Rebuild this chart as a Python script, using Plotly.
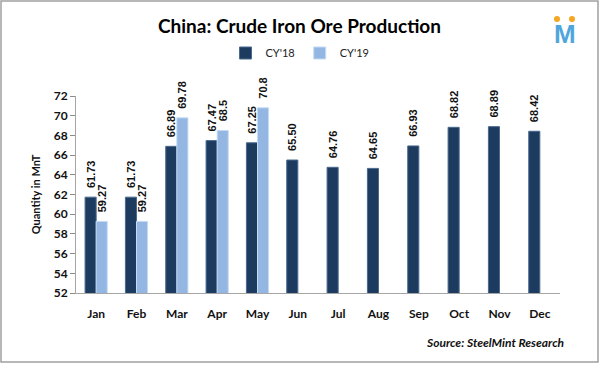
import plotly.graph_objects as go

months = ["Jan", "Feb", "Mar", "Apr", "May", "Jun", "Jul", "Aug", "Sep", "Oct", "Nov", "Dec"]
cy18 = [61.73, 61.73, 66.89, 67.47, 67.25, 65.50, 64.76, 64.65, 66.93, 68.82, 68.89, 68.42]
cy19 = [59.27, 59.27, 69.78, 68.5, 70.8, None, None, None, None, None, None, None]
cy18_labels = [f"{v:.2f}" for v in cy18]
cy19_labels = [("" if v is None else f"{v:g}") for v in cy19]

W, H = 599, 384
L, R, T, B = 76, 39, 96, 91
pw, ph = W - L - R, H - T - B

def px(x):
    return (x - L) / pw

def py(y):
    return (H - B - y) / ph

font = "Lato"
lab_tpl = "\u00a0\u00a0<b>%{text}</b>"

fig = go.Figure()
fig.add_trace(go.Bar(
    x=months, y=cy18, name="CY'18", text=cy18_labels, texttemplate=lab_tpl,
    textposition="outside", textangle=-90, constraintext="none",
    textfont=dict(family="Liberation Sans", size=11, color="#111111"),
    marker=dict(color="#1d3a5f", line=dict(color="#4a6a90", width=1)),
    cliponaxis=False, hoverinfo="skip",
))
fig.add_trace(go.Bar(
    x=months, y=cy19, name="CY'19", text=cy19_labels, texttemplate=lab_tpl,
    textposition="outside", textangle=-90, constraintext="none",
    textfont=dict(family="Liberation Sans", size=11, color="#111111"),
    marker=dict(color="#93b7e2", line=dict(color="#c5dbf3", width=1)),
    cliponaxis=False, hoverinfo="skip",
))

fig.update_layout(
    width=W, height=H,
    margin=dict(l=L, r=R, t=T, b=B, autoexpand=False),
    paper_bgcolor="white", plot_bgcolor="white",
    barmode="group", bargap=0.45, bargroupgap=0,
    font=dict(family=font, color="#111111"),
    title=dict(text="<b>China: Crude Iron Ore Production</b>", x=0.5, xanchor="center",
               y=1 - 26 / H, yanchor="middle", font=dict(size=19, family=font, color="#000000")),
    legend=dict(orientation="h", x=px(300), xanchor="center", y=py(53), yanchor="middle",
                font=dict(size=11, family=font, color="#222222"), traceorder="normal",
                itemwidth=30),
    showlegend=True,
    xaxis=dict(showline=True, linecolor="#a6a6a6", linewidth=1, ticks="", showgrid=False,
               automargin=False,
               tickfont=dict(size=12, family=font, color="#111111"), ticklabelstandoff=10),
    yaxis=dict(range=[52, 72], dtick=2, showline=True, linecolor="#a6a6a6", linewidth=1,
               automargin=False,
               ticks="outside", ticklen=5, tickcolor="#8c8c8c", showgrid=False, zeroline=False,
               tickfont=dict(size=12, family=font, color="#111111"),
               title=dict(text="<b>Quantity in MnT</b>", font=dict(size=11, family=font, color="#111111"),
                          standoff=10)),
)
fig.update_xaxes(tickprefix="<b>", ticksuffix="</b>")
fig.update_yaxes(tickprefix="<b>", ticksuffix="</b>")

fig.add_shape(type="rect", xref="paper", yref="paper",
              x0=px(1), x1=px(598), y0=py(362), y1=py(1),
              line=dict(color="#a0a0a0", width=1.5), fillcolor="rgba(0,0,0,0)", layer="below")

fig.add_annotation(text="<b><i>Source: SteelMint Research</i></b>", xref="paper", yref="paper",
                   x=px(566), y=py(342), xanchor="right", yanchor="middle", showarrow=False,
                   font=dict(size=12, family=font, color="#111111"))

# logo
fig.add_annotation(text="<b>M</b>", xref="paper", yref="paper", x=px(565), y=py(34),
                   xanchor="center", yanchor="middle", showarrow=False,
                   font=dict(size=26, family="Liberation Sans", color="#4ea6dd"))
for cx in (557, 572):
    fig.add_shape(type="circle", xref="paper", yref="paper",
                  x0=px(cx - 3), x1=px(cx + 3), y0=py(22), y1=py(16),
                  fillcolor="#f5a623", line=dict(width=0))

fig.write_html("out.html", config={"displayModeBar": False},
               post_script="document.body.style.margin='0';document.body.style.padding='0';")
